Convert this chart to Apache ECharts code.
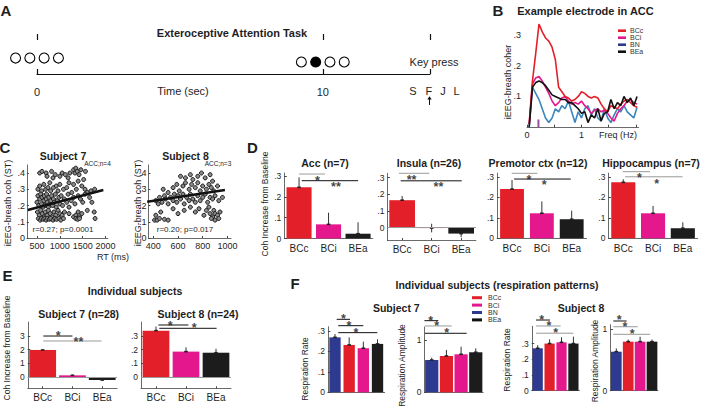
<!DOCTYPE html>
<html><head><meta charset="utf-8">
<script src="https://cdn.jsdelivr.net/npm/echarts@6/dist/echarts.min.js"></script>
<style>html,body{margin:0;padding:0;background:#fff}#c{width:705px;height:410px}</style>
</head><body><div id="c"></div>
<script>
// ================= DATA =================
// Panel A: task timeline
const cueTimesStart = [-0.75, -0.25, 0.25, 0.75];
const cueTimesTarget = [9.25, 9.75, 10.25, 10.75];
const targetFilled = [false, true, false, false];
const keyLabels = ['S', 'F', 'J', 'L'];

// Panel B: example electrode coherence spectra
const freqHz = [0.04,0.10,0.16,0.22,0.28,0.34,0.40,0.46,0.52,0.58,0.64,0.70,0.76,0.82,0.88,0.94,1.00,1.06,1.12,1.18,1.24,1.30,1.36,1.42,1.48,1.54,1.60,1.66,1.72,1.78,1.84,1.90,1.96,2.02];
const cohBCc = [0.01,0.15,0.24,0.335,0.31,0.29,0.28,0.26,0.22,0.13,0.115,0.10,0.095,0.085,0.09,0.10,0.115,0.11,0.10,0.095,0.10,0.095,0.075,0.06,0.05,0.07,0.065,0.06,0.075,0.085,0.09,0.08,0.07,0.065];
const cohBCi = [0.01,0.14,0.16,0.165,0.15,0.13,0.11,0.085,0.07,0.08,0.095,0.10,0.085,0.075,0.08,0.075,0.085,0.07,0.06,0.045,0.055,0.06,0.05,0.055,0.045,0.03,0.02,0.045,0.06,0.07,0.085,0.09,0.08,0.075];
const cohBN  = [0.0,0.13,0.11,0.09,0.06,0.03,0.015,0.03,0.06,0.05,0.07,0.06,0.085,0.05,0.015,0.05,0.03,0.06,0.07,0.04,0.06,0.03,0.02,0.06,0.03,0.015,0.04,0.06,0.05,0.07,0.05,0.04,0.03,0.065];
const cohBEa = [0.0,0.13,0.145,0.15,0.145,0.135,0.12,0.105,0.10,0.095,0.09,0.09,0.08,0.08,0.07,0.06,0.045,0.05,0.015,0.04,0.03,0.06,0.02,0.045,0.05,0.09,0.06,0.08,0.07,0.10,0.08,0.095,0.07,0.10];
const breathPeakHz = 0.21, breathPeakMark = 0.025;

// Panel C: RT vs coherence scatter
const s7Points = [
 [560,0.40],[610,0.41],[700,0.40],[720,0.38],[820,0.41],[850,0.37],[900,0.39],[1000,0.38],[1050,0.40],[1120,0.39],[1180,0.37],[1220,0.40],[1300,0.42],[1330,0.40],[1350,0.43],[1380,0.41],[1420,0.39],[1460,0.42],[1520,0.36],[1560,0.41],
 [520,0.30],[560,0.32],[600,0.29],[650,0.33],[690,0.30],[740,0.31],[780,0.34],[800,0.29],[860,0.31],[920,0.32],[960,0.29],[1000,0.33],[1080,0.30],[1150,0.31],[1200,0.34],[1260,0.28],[1300,0.33],[1360,0.30],[1400,0.35],[1480,0.32],[1550,0.30],[1600,0.28],[1680,0.29],[1760,0.30],
 [500,0.22],[520,0.26],[540,0.20],[560,0.24],[580,0.27],[600,0.21],[610,0.25],[630,0.19],[650,0.23],[660,0.26],[680,0.20],[700,0.24],[710,0.27],[730,0.22],[750,0.19],[760,0.25],[780,0.21],[800,0.23],[820,0.26],[840,0.20],[860,0.24],[880,0.22],[900,0.27],[920,0.19],[950,0.23],[980,0.25],[1000,0.21],[1030,0.26],[1060,0.20],[1100,0.24],[1150,0.22],[1180,0.27],[1200,0.19],[1250,0.23],[1300,0.25],[1330,0.21],[1400,0.26],[1450,0.24],[1500,0.22],[1550,0.27],[1650,0.25],[1700,0.22],
 [510,0.16],[550,0.14],[580,0.17],[620,0.15],[650,0.13],[680,0.16],[720,0.14],[750,0.17],[790,0.15],[830,0.13],[870,0.16],[910,0.14],[960,0.17],[1000,0.15],[1050,0.14],[1100,0.16],[1200,0.15],[1300,0.13],[1350,0.14],[1400,0.16],[1430,0.13],[1480,0.15],[1600,0.17],[1750,0.16],
 [530,0.12],[570,0.11],[600,0.12],[640,0.115],[670,0.12],[700,0.11],[730,0.12],[770,0.115],[800,0.12],[850,0.11],[890,0.12],[930,0.115],[980,0.12],[1020,0.11],[1080,0.12],[1350,0.12],[1390,0.115],[1430,0.12],[1770,0.12]
];
const s8Points = [
 [620,0.38],[660,0.37],[700,0.39],[720,0.36],[760,0.38],[790,0.40],[820,0.37],[860,0.39],[880,0.35],
 [480,0.30],[520,0.28],[560,0.31],[590,0.33],[610,0.29],[640,0.32],[660,0.34],[690,0.30],[710,0.33],[740,0.31],[760,0.34],[780,0.29],[800,0.32],[830,0.30],[850,0.33],[870,0.31],[890,0.29],[920,0.32],
 [420,0.23],[440,0.21],[450,0.25],[470,0.22],[490,0.26],[500,0.24],[520,0.21],[540,0.25],[560,0.23],[570,0.27],[590,0.22],[600,0.26],[620,0.24],[640,0.27],[650,0.21],[670,0.25],[690,0.23],[700,0.27],[720,0.24],[740,0.22],[760,0.26],[780,0.23],[800,0.25],[820,0.27],[840,0.22],[860,0.25],[880,0.24],[900,0.26],[930,0.23],[960,0.25],
 [420,0.14],[460,0.16],[560,0.18],[600,0.15],[650,0.17],[700,0.19],[740,0.16],[770,0.18],[810,0.14],[830,0.17],[850,0.19],[860,0.15],[880,0.13],[890,0.17],[900,0.15],[920,0.14],[940,0.16],
 [410,0.11],[430,0.11],[450,0.12],[490,0.115],[520,0.11],[870,0.12],[900,0.11],[930,0.12]
];
const s7Fit = [[300,0.172],[1950,0.295]];
const s8Fit = [[350,0.223],[980,0.295]];
const s7Stats = 'r=0.27; p=0.0001', s8Stats = 'r=0.20; p=0.017';

// Panel D: group coherence increase
const condCats = ['BCc','BCi','BEa'];
const accVals = [0.246,0.068,0.023],   accErr = [0.048,0.056,0.055];
const insulaVals = [0.165,-0.002,-0.035], insulaErr = [0.025,0.026,0.022];
const premotorVals = [0.24,0.122,0.093], premotorErr = [0.044,0.058,0.042];
const hippoVals = [0.273,0.122,0.049], hippoErr = [0.015,0.036,0.029];

// Panel E: individual subjects
const e7Vals = [1.98,0.14,-0.2], e7Err = [0.06,0.06,0.06];
const e8Vals = [0.338,0.186,0.178], e8Err = [0.03,0.031,0.029];

// Panel F: respiration patterns (order BN, BCc, BCi, BEa)
const respCats = ['BN','BCc','BCi','BEa'];
const f7Rate = [0.268,0.231,0.215,0.236], f7RateErr = [0.016,0.037,0.032,0.022];
const f7Amp  = [0.617,0.694,0.726,0.765], f7AmpErr  = [0.045,0.116,0.145,0.075];
const f8Rate = [0.27,0.30,0.308,0.30],    f8RateErr = [0.02,0.027,0.032,0.044];
const f8Amp  = [0.632,0.795,0.795,0.795], f8AmpErr  = [0.054,0.035,0.08,0.035];

// ================= STYLE / LAYOUT =================
const FONT = '"Liberation Sans", Arial, Helvetica, sans-serif';
const COL = {BCc:'#e3202a', BCi:'#e5178c', BN:'#2e3a8f', BEa:'#1c1c1c', BNline:'#3a86bb'};
const TXT = '#1e1e1e', AX = '#444', GRAY = '#9a9a9a', BLK = '#111111';
const condColors = [COL.BCc, COL.BCi, COL.BEa];
const respColors = [COL.BN, COL.BCc, COL.BCi, COL.BEa];

const grids = [], xAxes = [], yAxes = [], series = [], graphics = [];
function addGrid(l,t,w,h){ grids.push({left:l, top:t, width:w, height:h, containLabel:false, outerBoundsMode:'none'}); return grids.length-1; }
function txt(x,y,text,o={}) {
  graphics.push({type:'text', x:x, y:y, rotation:o.rot||0, silent:true, z:10,
    style:{text:text, fontFamily:FONT, fontSize:o.size||10, fontWeight:o.bold?'bold':'normal',
      fill:o.color||TXT, align:o.align||'center', verticalAlign:'middle'}});
}
function fmtTick(v){ if (Math.abs(v)<1e-9) return '0'; const s=String(Math.round(v*100)/100); return s.replace(/^0\./,'.').replace(/^-0\./,'-.'); }
function plain(v){ return String(v); }

// ---------- Panel A ----------
(function(){
  const g = addGrid(37, 40, 393, 34);
  const xa = xAxes.length;
  xAxes.push({type:'value', gridIndex:g, min:0, max:13.75,
    axisLine:{show:true, lineStyle:{color:BLK, width:1.2}},
    axisTick:{show:true, inside:true, length:5, customValues:[0,10,13.75], lineStyle:{color:BLK,width:1.2}},
    axisLabel:{show:true, customValues:[0,10], formatter:plain, fontSize:11, color:TXT, margin:12, fontFamily:FONT},
    splitLine:{show:false}});
  xAxes.push({type:'value', gridIndex:g, min:0, max:13.75,
    axisLine:{show:false}, axisLabel:{show:false}, splitLine:{show:false},
    axisTick:{show:true, inside:false, length:6, customValues:[0,10,13.75], lineStyle:{color:BLK,width:1.2}}});
  const ya = yAxes.length;
  yAxes.push({type:'value', gridIndex:g, min:0, max:1, show:false});
  const circ = (t,y,filled)=>({value:[t,y], itemStyle:{color: filled?'#000':'#fff'}});
  series.push({type:'scatter', xAxisIndex:xa, yAxisIndex:ya, clip:false, symbolSize:10, silent:true,
    itemStyle:{borderColor:'#000', borderWidth:1.1, opacity:1},
    data: cueTimesStart.map(t=>circ(t,0.47,false)).concat(cueTimesTarget.map((t,i)=>circ(t,0.353,targetFilled[i])))});
  txt(232, 33, 'Exteroceptive Attention Task', {bold:true, size:11});
  txt(183, 91, 'Time (sec)', {size:11});
  txt(434, 62, 'Key press', {size:11});
  const kx = [413, 428.8, 443, 456.5];
  keyLabels.forEach((k,i)=>txt(kx[i], 91, k, {size:11}));
  graphics.push({type:'line', silent:true, shape:{x1:429.5,y1:98,x2:429.5,y2:105}, style:{stroke:BLK, lineWidth:1}});
  graphics.push({type:'polygon', silent:true, shape:{points:[[427.3,99.5],[431.7,99.5],[429.5,96.2]]}, style:{fill:BLK}});
  txt(6, 10, 'A', {bold:true, size:15});
})();

// ---------- Panel B ----------
(function(){
  const g = addGrid(527, 22.6, 111.7, 104.6);
  const xa = xAxes.length;
  xAxes.push({type:'value', gridIndex:g, min:0, max:2.05,
    axisLine:{show:true, lineStyle:{color:AX, width:0.8}},
    axisTick:{show:true, inside:true, length:2.5, customValues:[0,0.5,1,1.5,2], lineStyle:{color:AX}},
    axisLabel:{customValues:[0,1], formatter:plain, fontSize:9, color:TXT, margin:3, fontFamily:FONT},
    splitLine:{show:false}});
  const ya = yAxes.length;
  yAxes.push({type:'value', gridIndex:g, min:0, max:0.34,
    axisLine:{show:false}, axisTick:{show:false},
    axisLabel:{customValues:[0.1,0.2,0.3], formatter:fmtTick, fontSize:9, color:TXT, margin:6, fontFamily:FONT},
    splitLine:{show:false}});
  const mk = (name, arr, color) => ({type:'line', name:name, xAxisIndex:xa, yAxisIndex:ya, showSymbol:false, symbol:'none', silent:true,
    data: freqHz.map((f,i)=>[f, arr[i]]), lineStyle:{color:color, width:1.6}, itemStyle:{color:color}});
  series.push(mk('BN', cohBN, COL.BNline));
  series.push(mk('BCi', cohBCi, COL.BCi));
  series.push(mk('BCc', cohBCc, COL.BCc));
  series.push(mk('BEa', cohBEa, BLK));
  series.push({type:'line', xAxisIndex:xa, yAxisIndex:ya, symbol:'none', silent:true,
    data:[[breathPeakHz,0],[breathPeakHz,breathPeakMark]], lineStyle:{color:'#9b4f97', width:2}});
  txt(498, 10, 'B', {bold:true, size:15});
  txt(585.5, 11, 'Example electrode in ACC', {bold:true, size:11});
  txt(508, 82, 'iEEG-breath coher', {size:9, rot:Math.PI/2});
  txt(618, 134.5, 'Freq (Hz)', {size:9});
})();

// ---------- Panel C ----------
function scatterPanel(L, pts, fit){
  const g = addGrid(L.left, 164.9, L.width, 73.1);
  const xa = xAxes.length;
  xAxes.push({type:'value', gridIndex:g, min:L.xmin, max:L.xmax,
    axisLine:{show:true, lineStyle:{color:AX, width:0.8}},
    axisTick:{show:true, inside:true, length:2, customValues:L.xt, lineStyle:{color:AX}},
    axisLabel:{customValues:L.xt, formatter:plain, fontSize:9, color:TXT, margin:3, fontFamily:FONT},
    splitLine:{show:false}});
  const ya = yAxes.length;
  yAxes.push({type:'value', gridIndex:g, min:0, max:0.45,
    axisLine:{show:true, lineStyle:{color:AX, width:0.8}},
    axisTick:{show:true, inside:true, length:2, customValues:[0,0.1,0.2,0.3,0.4], lineStyle:{color:AX}},
    axisLabel:{customValues:[0,0.1,0.2,0.3,0.4], formatter:fmtTick, fontSize:9, color:TXT, margin:2, fontFamily:FONT},
    splitLine:{show:false}});
  series.push({type:'scatter', xAxisIndex:xa, yAxisIndex:ya, symbolSize:4, silent:true,
    itemStyle:{color:'#8a8a8a', borderColor:'#1a1a1a', borderWidth:1, opacity:1}, data:pts});
  series.push({type:'line', xAxisIndex:xa, yAxisIndex:ya, symbol:'none', silent:true, z:5,
    data:fit, lineStyle:{color:BLK, width:2.6}});
}
scatterPanel({left:26.9, width:81, xmin:280, xmax:2050, xt:[500,1000,1500,2000]}, s7Points, s7Fit);
scatterPanel({left:148.4, width:82.7, xmin:360, xmax:1030, xt:[400,600,800,1000]}, s8Points, s8Fit);
txt(5, 147, 'C', {bold:true, size:15});
txt(63, 156, 'Subject 7', {bold:true, size:10.5});
txt(185.5, 156, 'Subject 8', {bold:true, size:10.5});
txt(97.5, 163.5, 'ACC;n=4', {size:6.5});
txt(218, 163.5, 'ACC;n=3', {size:6.5});
txt(63, 229.5, s7Stats, {size:8});
txt(185, 229.5, s8Stats, {size:8});
txt(113, 257, 'RT (ms)', {size:9});
txt(8.3, 203, 'iEEG-breath coh (ST)', {size:9, rot:Math.PI/2});
txt(138.3, 203, 'iEEG-breath coh (ST)', {size:9, rot:Math.PI/2});

// ---------- bar chart builder (D, E, F) ----------
function barChart(L, vals, errs, colors, cats, sig){
  const g = addGrid(L.left, L.top, L.width, L.height);
  const xa = xAxes.length;
  xAxes.push({type:'category', gridIndex:g, data:cats, boundaryGap:true,
    axisLine:{show:true, onZero:false, lineStyle:{color:AX, width:0.8}},
    axisTick:{show:!!L.xLabels, inside:true, length:2, alignWithLabel:true, lineStyle:{color:AX}},
    axisLabel:{show:!!L.xLabels, fontSize:10, color:TXT, margin:L.labelMargin||5, fontFamily:FONT},
    splitLine:{show:false}});
  xAxes.push({type:'value', gridIndex:g, min:-0.5, max:cats.length-0.5, show:false});
  const ya = yAxes.length;
  yAxes.push({type:'value', gridIndex:g, min:L.ymin, max:L.ymax,
    axisLine:{show:true, onZero:false, lineStyle:{color:AX, width:0.8}},
    axisTick:{show:true, inside:true, length:2.5, customValues:L.yt, lineStyle:{color:AX}},
    axisLabel:{customValues:L.yt, formatter:fmtTick, fontSize:8.5, color:TXT, margin:3, fontFamily:FONT},
    splitLine:{show:false}});
  const bar = {type:'bar', xAxisIndex:xa, yAxisIndex:ya, barWidth:L.barWidth, silent:true, z:2,
    data: vals.map((v,i)=>({value:v, itemStyle:{color:colors[i]}}))};
  if (L.zeroLine) bar.markLine = {symbol:'none', silent:true, label:{show:false},
    lineStyle:{color:GRAY, type:'solid', width:1}, data:[{yAxis:0}]};
  series.push(bar);
  series.push({type:'custom', xAxisIndex:xa, yAxisIndex:ya, silent:true, z:4,
    data: vals.map((v,i)=>[i, v, errs[i]]), encode:{x:0, y:1},
    renderItem:function(params, api){
      const i=api.value(0), v=api.value(1), e=api.value(2);
      const ch = [];
      const p0 = api.coord([i, v]);
      const ends = Math.abs(v)<0.01 ? [v+e, v-e] : [v + (v<0?-1:1)*e];
      ends.forEach(function(end){
        const p1 = api.coord([i, end]);
        ch.push({type:'line', shape:{x1:p0[0],y1:p0[1],x2:p1[0],y2:p1[1]}, style:{stroke:'#333', lineWidth:1}});
      });
      ch.push({type:'line', shape:{x1:p0[0]-1.8,y1:p0[1],x2:p0[0]+1.8,y2:p0[1]}, style:{stroke:'#222', lineWidth:1.6}});
      return {type:'group', children:ch};
    }});
  sig.forEach(function(s){
    series.push({type:'line', xAxisIndex:xa+1, yAxisIndex:ya, symbol:'none', silent:true, clip:false, z:6,
      data:[[s.x1, s.y],[s.x2, s.y]], lineStyle:{color:s.c, width:1}});
    series.push({type:'scatter', xAxisIndex:xa+1, yAxisIndex:ya, clip:false, silent:true, symbolSize:1, z:6,
      itemStyle:{color:'rgba(0,0,0,0)'},
      label:{show:true, position:'inside', formatter:s.t, fontSize:12.5, fontWeight:'bold', color:BLK, fontFamily:FONT, offset:[0,3]},
      data:[[s.sx, s.sy]]});
  });
}
const K = BLK, G = GRAY;
// ---------- Panel D ----------
barChart({left:284.3, width:88.5, top:173, height:65.5, ymin:0, ymax:0.315, yt:[0,0.1,0.2,0.3], barWidth:'85%', xLabels:true},
  accVals, accErr, condColors, condCats,
  [{x1:0.0,x2:0.88,y:0.31,c:G,sx:0.62,sy:0.292,t:'*'},{x1:0.09,x2:2.0,y:0.278,c:K,sx:1.25,sy:0.261,t:'**'}]);
barChart({left:387.4, width:88.5, top:173.3, height:66.8, ymin:-0.074, ymax:0.326, yt:[0,0.1,0.2,0.3], barWidth:'87%', xLabels:true, zeroLine:true, labelMargin:4},
  insulaVals, insulaErr, condColors, condCats,
  [{x1:-0.11,x2:0.92,y:0.326,c:G,sx:0.32,sy:0.302,t:'**'},{x1:-0.05,x2:2.02,y:0.281,c:K,sx:1.23,sy:0.262,t:'**'}]);
barChart({left:497.1, width:89.5, top:173.1, height:65.2, ymin:0, ymax:0.318, yt:[0,0.1,0.2,0.3], barWidth:'80%', xLabels:true},
  premotorVals, premotorErr, condColors, condCats,
  [{x1:-0.01,x2:0.85,y:0.317,c:G,sx:0.57,sy:0.30,t:'*'},{x1:0.07,x2:1.97,y:0.289,c:K,sx:1.08,sy:0.273,t:'*'}]);
barChart({left:608.4, width:89.3, top:173.1, height:65.2, ymin:0, ymax:0.318, yt:[0,0.1,0.2,0.3], barWidth:'81%', xLabels:true},
  hippoVals, hippoErr, condColors, condCats,
  [{x1:-0.02,x2:0.9,y:0.325,c:G,sx:0.54,sy:0.309,t:'*'},{x1:0.06,x2:1.99,y:0.30,c:G,sx:1.12,sy:0.281,t:'*'}]);
txt(252.5, 147, 'D', {bold:true, size:15});
txt(325, 163, 'Acc (n=7)', {bold:true, size:10.5});
txt(429, 163, 'Insula (n=26)', {bold:true, size:10.5});
txt(538, 163, 'Premotor ctx (n=12)', {bold:true, size:10.5});
txt(651, 163, 'Hippocampus (n=7)', {bold:true, size:10.5});
txt(265, 204, 'Coh Increase from Baseline', {size:8.5, rot:Math.PI/2});

// ---------- Panel E ----------
barChart({left:27.8, width:89.3, top:322.1, height:66.2, ymin:-0.8, ymax:4.0, yt:[0,1,2,3], barWidth:'90%', xLabels:true, zeroLine:true, labelMargin:4},
  e7Vals, e7Err, condColors, condCats,
  [{x1:0.02,x2:1.0,y:2.99,c:K,sx:0.52,sy:3.23,t:'*'},{x1:0.02,x2:1.98,y:2.63,c:G,sx:1.2,sy:2.78,t:'**'}]);
barChart({left:141, width:90, top:322.1, height:66.2, ymin:-0.08, ymax:0.40, yt:[0,0.1,0.2,0.3], barWidth:'89%', xLabels:true, zeroLine:true, labelMargin:4},
  e8Vals, e8Err, condColors, condCats,
  [{x1:0.08,x2:1.08,y:0.379,c:K,sx:0.47,sy:0.396,t:'*'},{x1:0.11,x2:2.02,y:0.355,c:K,sx:1.27,sy:0.379,t:'*'}]);
txt(7.5, 275, 'E', {bold:true, size:15});
txt(135, 291, 'Individual subjects', {bold:true, size:10.5});
txt(78.7, 314, 'Subject 7 (n=28)', {bold:true, size:10.5});
txt(198, 314, 'Subject 8 (n=24)', {bold:true, size:10.5});
txt(6.7, 348, 'Coh Increase from Baseline', {size:8.5, rot:Math.PI/2});

// ---------- Panel F ----------
barChart({left:327.9, width:56.7, top:326.7, height:65.6, ymin:0, ymax:0.32, yt:[0,0.1,0.2,0.3], barWidth:'80%'},
  f7Rate, f7RateErr, respColors, respCats,
  [{x1:0.12,x2:1.06,y:0.356,c:K,sx:0.59,sy:0.37,t:'*'},{x1:0.23,x2:2.0,y:0.325,c:K,sx:0.99,sy:0.34,t:'*'},{x1:0.23,x2:2.99,y:0.291,c:K,sx:1.48,sy:0.304,t:'*'}]);
barChart({left:424.4, width:58.7, top:326.9, height:65.4, ymin:0, ymax:1.25, yt:[0,1], barWidth:'90%'},
  f7Amp, f7AmpErr, respColors, respCats,
  [{x1:-0.5,x2:0.45,y:1.369,c:K,sx:-0.07,sy:1.415,t:'*'},{x1:-0.46,x2:1.36,y:1.268,c:G,sx:0.34,sy:1.319,t:'*'},{x1:-0.46,x2:2.38,y:1.128,c:K,sx:1.02,sy:1.191,t:'*'}]);
barChart({left:531.75, width:47.6, top:326.3, height:64.4, ymin:0, ymax:0.41, yt:[0,0.1,0.2,0.3], barWidth:'86%'},
  f8Rate, f8RateErr, respColors, respCats,
  [{x1:-0.14,x2:1.03,y:0.45,c:K,sx:0.34,sy:0.468,t:'*'},{x1:-0.14,x2:1.93,y:0.412,c:G,sx:0.95,sy:0.429,t:'*'},{x1:-0.14,x2:2.99,y:0.366,c:G,sx:1.51,sy:0.387,t:'*'}]);
barChart({left:610.35, width:47.6, top:324.7, height:66, ymin:0, ymax:1.07, yt:[0,1], barWidth:'90%'},
  f8Amp, f8AmpErr, respColors, respCats,
  [{x1:-0.25,x2:0.87,y:1.13,c:K,sx:0.25,sy:1.19,t:'*'},{x1:-0.25,x2:1.8,y:1.037,c:G,sx:0.73,sy:1.08,t:'*'},{x1:-0.25,x2:2.84,y:0.914,c:G,sx:1.34,sy:0.968,t:'*'}]);
txt(295, 283.3, 'F', {bold:true, size:15});
txt(497, 285, 'Individual subjects (respiration patterns)', {bold:true, size:10.5});
txt(396.3, 308.3, 'Subject 7', {bold:true, size:10.5});
txt(581, 308.3, 'Subject 8', {bold:true, size:10.5});
txt(305, 369, 'Respiration Rate', {size:8.5, rot:Math.PI/2});
txt(401.7, 365.5, 'Respiration Amplitude', {size:8.5, rot:Math.PI/2});
txt(506.7, 360, 'Respiration Rate', {size:8.5, rot:Math.PI/2});
txt(595, 361, 'Respiration Amplitude', {size:8.5, rot:Math.PI/2});

// ---------- legends ----------
const legendNames = ['BCc','BCi','BN','BEa'];
const legendColors = [COL.BCc, COL.BCi, COL.BN, BLK];
const legendData = legendNames.map((n,i)=>({name:n, icon:'rect', itemStyle:{color:legendColors[i], borderWidth:0}}));
const legends = [
  {left:618, top:27.2, orient:'vertical', padding:0, itemGap:0, itemWidth:8, itemHeight:2.6, selectedMode:false,
   textStyle:{fontSize:7, lineHeight:7, color:'#333', fontFamily:FONT, padding:[0,0,0,-1]}, data:legendData},
  {left:472, top:294, orient:'vertical', padding:0, itemGap:0, itemWidth:10, itemHeight:3, selectedMode:false,
   textStyle:{fontSize:7, lineHeight:7.4, color:'#333', fontFamily:FONT, padding:[0,0,0,1]}, data:legendData}
];

const chart = echarts.init(document.getElementById('c'), null, {renderer:'svg', width:705, height:410});
chart.setOption({
  animation:false,
  backgroundColor:'#fff',
  textStyle:{fontFamily:FONT},
  grid:grids, xAxis:xAxes, yAxis:yAxes, series:series, legend:legends,
  graphic:{elements:graphics}
});
</script>
</body></html>
